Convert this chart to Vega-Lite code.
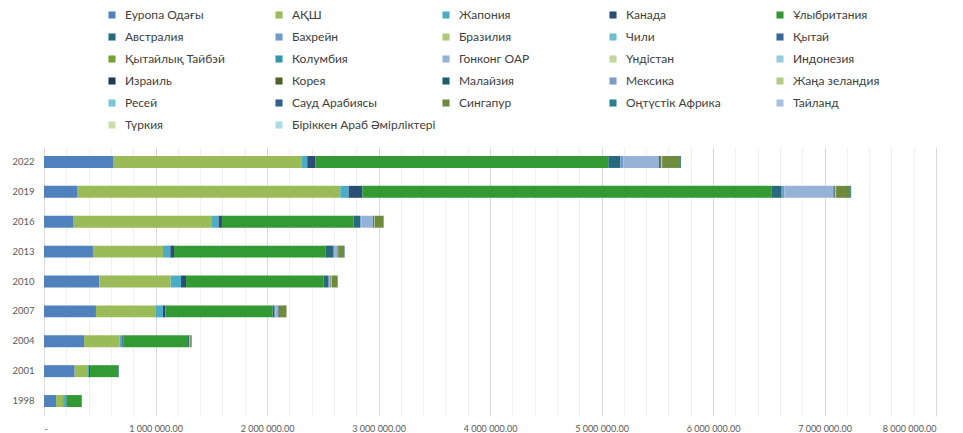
{
  "$schema": "https://vega.github.io/schema/vega-lite/v6.json",
  "width": 892,
  "height": 269,
  "autosize": {"type": "none"},
  "padding": {"left": 44, "top": 147, "right": 27, "bottom": 17},
  "background": "white",
  "config": {"view": {"stroke": null}, "font": "Lato"},
  "data": {"values": [
    {"year": "1998", "country": "Еуропа Одағы", "value": 108000},
    {"year": "1998", "country": "АҚШ", "value": 63000},
    {"year": "1998", "country": "Жапония", "value": 27000},
    {"year": "1998", "country": "Канада", "value": 4000},
    {"year": "1998", "country": "Ұлыбритания", "value": 135000},
    {"year": "1998", "country": "Австралия", "value": 3000},
    {"year": "2001", "country": "Еуропа Одағы", "value": 275000},
    {"year": "2001", "country": "АҚШ", "value": 120000},
    {"year": "2001", "country": "Жапония", "value": 9000},
    {"year": "2001", "country": "Канада", "value": 9000},
    {"year": "2001", "country": "Ұлыбритания", "value": 251000},
    {"year": "2001", "country": "Австралия", "value": 6000},
    {"year": "2004", "country": "Еуропа Одағы", "value": 359000},
    {"year": "2004", "country": "АҚШ", "value": 319000},
    {"year": "2004", "country": "Жапония", "value": 24000},
    {"year": "2004", "country": "Канада", "value": 12000},
    {"year": "2004", "country": "Ұлыбритания", "value": 578000},
    {"year": "2004", "country": "Австралия", "value": 9000},
    {"year": "2004", "country": "Гонконг ОАР", "value": 10000},
    {"year": "2004", "country": "Сингапур", "value": 14000},
    {"year": "2007", "country": "Еуропа Одағы", "value": 466000},
    {"year": "2007", "country": "АҚШ", "value": 532000},
    {"year": "2007", "country": "Жапония", "value": 69000},
    {"year": "2007", "country": "Канада", "value": 21000},
    {"year": "2007", "country": "Ұлыбритания", "value": 963000},
    {"year": "2007", "country": "Австралия", "value": 18000},
    {"year": "2007", "country": "Бахрейн", "value": 5000},
    {"year": "2007", "country": "Гонконг ОАР", "value": 27000},
    {"year": "2007", "country": "Израиль", "value": 5000},
    {"year": "2007", "country": "Сингапур", "value": 69000},
    {"year": "2010", "country": "Еуропа Одағы", "value": 496000},
    {"year": "2010", "country": "АҚШ", "value": 640000},
    {"year": "2010", "country": "Жапония", "value": 93000},
    {"year": "2010", "country": "Канада", "value": 45000},
    {"year": "2010", "country": "Ұлыбритания", "value": 1234000},
    {"year": "2010", "country": "Австралия", "value": 39000},
    {"year": "2010", "country": "Бахрейн", "value": 9000},
    {"year": "2010", "country": "Гонконг ОАР", "value": 12000},
    {"year": "2010", "country": "Корея", "value": 5000},
    {"year": "2010", "country": "Жаңа зеландия", "value": 8000},
    {"year": "2010", "country": "Сингапур", "value": 50000},
    {"year": "2010", "country": "Оңтүстік Африка", "value": 4000},
    {"year": "2013", "country": "Еуропа Одағы", "value": 439000},
    {"year": "2013", "country": "АҚШ", "value": 628000},
    {"year": "2013", "country": "Жапония", "value": 66000},
    {"year": "2013", "country": "Канада", "value": 33000},
    {"year": "2013", "country": "Ұлыбритания", "value": 1357000},
    {"year": "2013", "country": "Австралия", "value": 75000},
    {"year": "2013", "country": "Бахрейн", "value": 9000},
    {"year": "2013", "country": "Гонконг ОАР", "value": 27000},
    {"year": "2013", "country": "Израиль", "value": 5000},
    {"year": "2013", "country": "Сингапур", "value": 54000},
    {"year": "2013", "country": "Оңтүстік Африка", "value": 4000},
    {"year": "2016", "country": "Еуропа Одағы", "value": 266000},
    {"year": "2016", "country": "АҚШ", "value": 1241000},
    {"year": "2016", "country": "Жапония", "value": 59000},
    {"year": "2016", "country": "Канада", "value": 30000},
    {"year": "2016", "country": "Ұлыбритания", "value": 1180000},
    {"year": "2016", "country": "Австралия", "value": 60000},
    {"year": "2016", "country": "Бахрейн", "value": 9000},
    {"year": "2016", "country": "Гонконг ОАР", "value": 108000},
    {"year": "2016", "country": "Израиль", "value": 6000},
    {"year": "2016", "country": "Жаңа зеландия", "value": 6000},
    {"year": "2016", "country": "Сингапур", "value": 78000},
    {"year": "2016", "country": "Оңтүстік Африка", "value": 4000},
    {"year": "2019", "country": "Еуропа Одағы", "value": 296000},
    {"year": "2019", "country": "АҚШ", "value": 2361000},
    {"year": "2019", "country": "Жапония", "value": 75000},
    {"year": "2019", "country": "Канада", "value": 123000},
    {"year": "2019", "country": "Ұлыбритания", "value": 3668000},
    {"year": "2019", "country": "Австралия", "value": 93000},
    {"year": "2019", "country": "Бахрейн", "value": 24000},
    {"year": "2019", "country": "Гонконг ОАР", "value": 442000},
    {"year": "2019", "country": "Израиль", "value": 10000},
    {"year": "2019", "country": "Жаңа зеландия", "value": 12000},
    {"year": "2019", "country": "Сингапур", "value": 126000},
    {"year": "2019", "country": "Оңтүстік Африка", "value": 9000},
    {"year": "2022", "country": "Еуропа Одағы", "value": 619000},
    {"year": "2022", "country": "АҚШ", "value": 1688000},
    {"year": "2022", "country": "Жапония", "value": 54000},
    {"year": "2022", "country": "Канада", "value": 72000},
    {"year": "2022", "country": "Ұлыбритания", "value": 2628000},
    {"year": "2022", "country": "Австралия", "value": 108000},
    {"year": "2022", "country": "Бахрейн", "value": 27000},
    {"year": "2022", "country": "Гонконг ОАР", "value": 322000},
    {"year": "2022", "country": "Израиль", "value": 10000},
    {"year": "2022", "country": "Корея", "value": 6000},
    {"year": "2022", "country": "Жаңа зеландия", "value": 10000},
    {"year": "2022", "country": "Сингапур", "value": 161000},
    {"year": "2022", "country": "Оңтүстік Африка", "value": 8000}
  ]},
  "transform": [
    {"calculate": "indexof(['Еуропа Одағы','АҚШ','Жапония','Канада','Ұлыбритания','Австралия','Бахрейн','Бразилия','Чили','Қытай','Қытайлық Тайбэй','Колумбия','Гонконг ОАР','Үндістан','Индонезия','Израиль','Корея','Малайзия','Мексика','Жаңа зеландия','Ресей','Сауд Арабиясы','Сингапур','Оңтүстік Африка','Тайланд','Түркия','Біріккен Араб Әмірліктері'], datum.country)", "as": "k"}
  ],
  "mark": {"type": "bar"},
  "encoding": {
    "y": {
      "field": "year", "type": "nominal", "sort": "descending",
      "scale": {"paddingInner": 0.6, "paddingOuter": 0.3},
      "axis": {"title": null, "domain": false, "ticks": false, "labelPadding": 10, "labelFontSize": 9.5, "labelColor": "#595959", "labelFont": "Lato"}
    },
    "x": {
      "field": "value", "type": "quantitative", "stack": "zero",
      "scale": {"domain": [0, 8000000], "nice": false},
      "axis": {
        "title": null, "domain": false, "ticks": false,
        "values": [0,200000,400000,600000,800000,1000000,1200000,1400000,1600000,1800000,2000000,2200000,2400000,2600000,2800000,3000000,3200000,3400000,3600000,3800000,4000000,4200000,4400000,4600000,4800000,5000000,5200000,5400000,5600000,5800000,6000000,6200000,6400000,6600000,6800000,7000000,7200000,7400000,7600000,7800000,8000000],
        "labelExpr": "datum.value % 1000000 === 0 ? (datum.value === 0 ? '-' : format(datum.value / 1000000, 'd') + ' 000 000.00') : ''",
        "labelOverlap": false,
        "labelFontSize": 9,
        "labelColor": "#595959",
        "labelFont": "Lato",
        "labelPadding": 8,
        "gridColor": {"condition": {"test": "datum.value % 1000000 === 0", "value": "#d9d9d9"}, "value": "#f0f0f0"},
        "gridWidth": 1
      }
    },
    "order": {"field": "k", "type": "quantitative"},
    "color": {
      "field": "country", "type": "nominal",
      "scale": {
        "domain": ["Еуропа Одағы","АҚШ","Жапония","Канада","Ұлыбритания","Австралия","Бахрейн","Бразилия","Чили","Қытай","Қытайлық Тайбэй","Колумбия","Гонконг ОАР","Үндістан","Индонезия","Израиль","Корея","Малайзия","Мексика","Жаңа зеландия","Ресей","Сауд Арабиясы","Сингапур","Оңтүстік Африка","Тайланд","Түркия","Біріккен Араб Әмірліктері"],
        "range": ["#4F81BD","#9BBB59","#4BACC6","#2C4D75","#339933","#276A7C","#729ACA","#AFC97A","#6FBDD1","#3A679C","#77A033","#3296AB","#95B3D7","#C3D69B","#93CDDD","#1F3956","#4F6228","#1D5E6E","#7C9CC8","#B3CC82","#7CC5D9","#345E8E","#6E8B3D","#2A7F92","#A9C1E0","#CADDAA","#ADDBE5"]
      },
      "legend": {
        "title": null, "orient": "none", "legendX": 62, "legendY": -138,
        "direction": "horizontal", "columns": 5, "gridAlign": "all",
        "symbolType": "square", "symbolSize": 50, "symbolStrokeWidth": 0,
        "labelFontSize": 12, "labelFont": "Lato", "labelColor": "#404040",
        "labelOffset": 7, "columnPadding": 4, "rowPadding": 10, "labelLimit": 300
      }
    }
  }
}
